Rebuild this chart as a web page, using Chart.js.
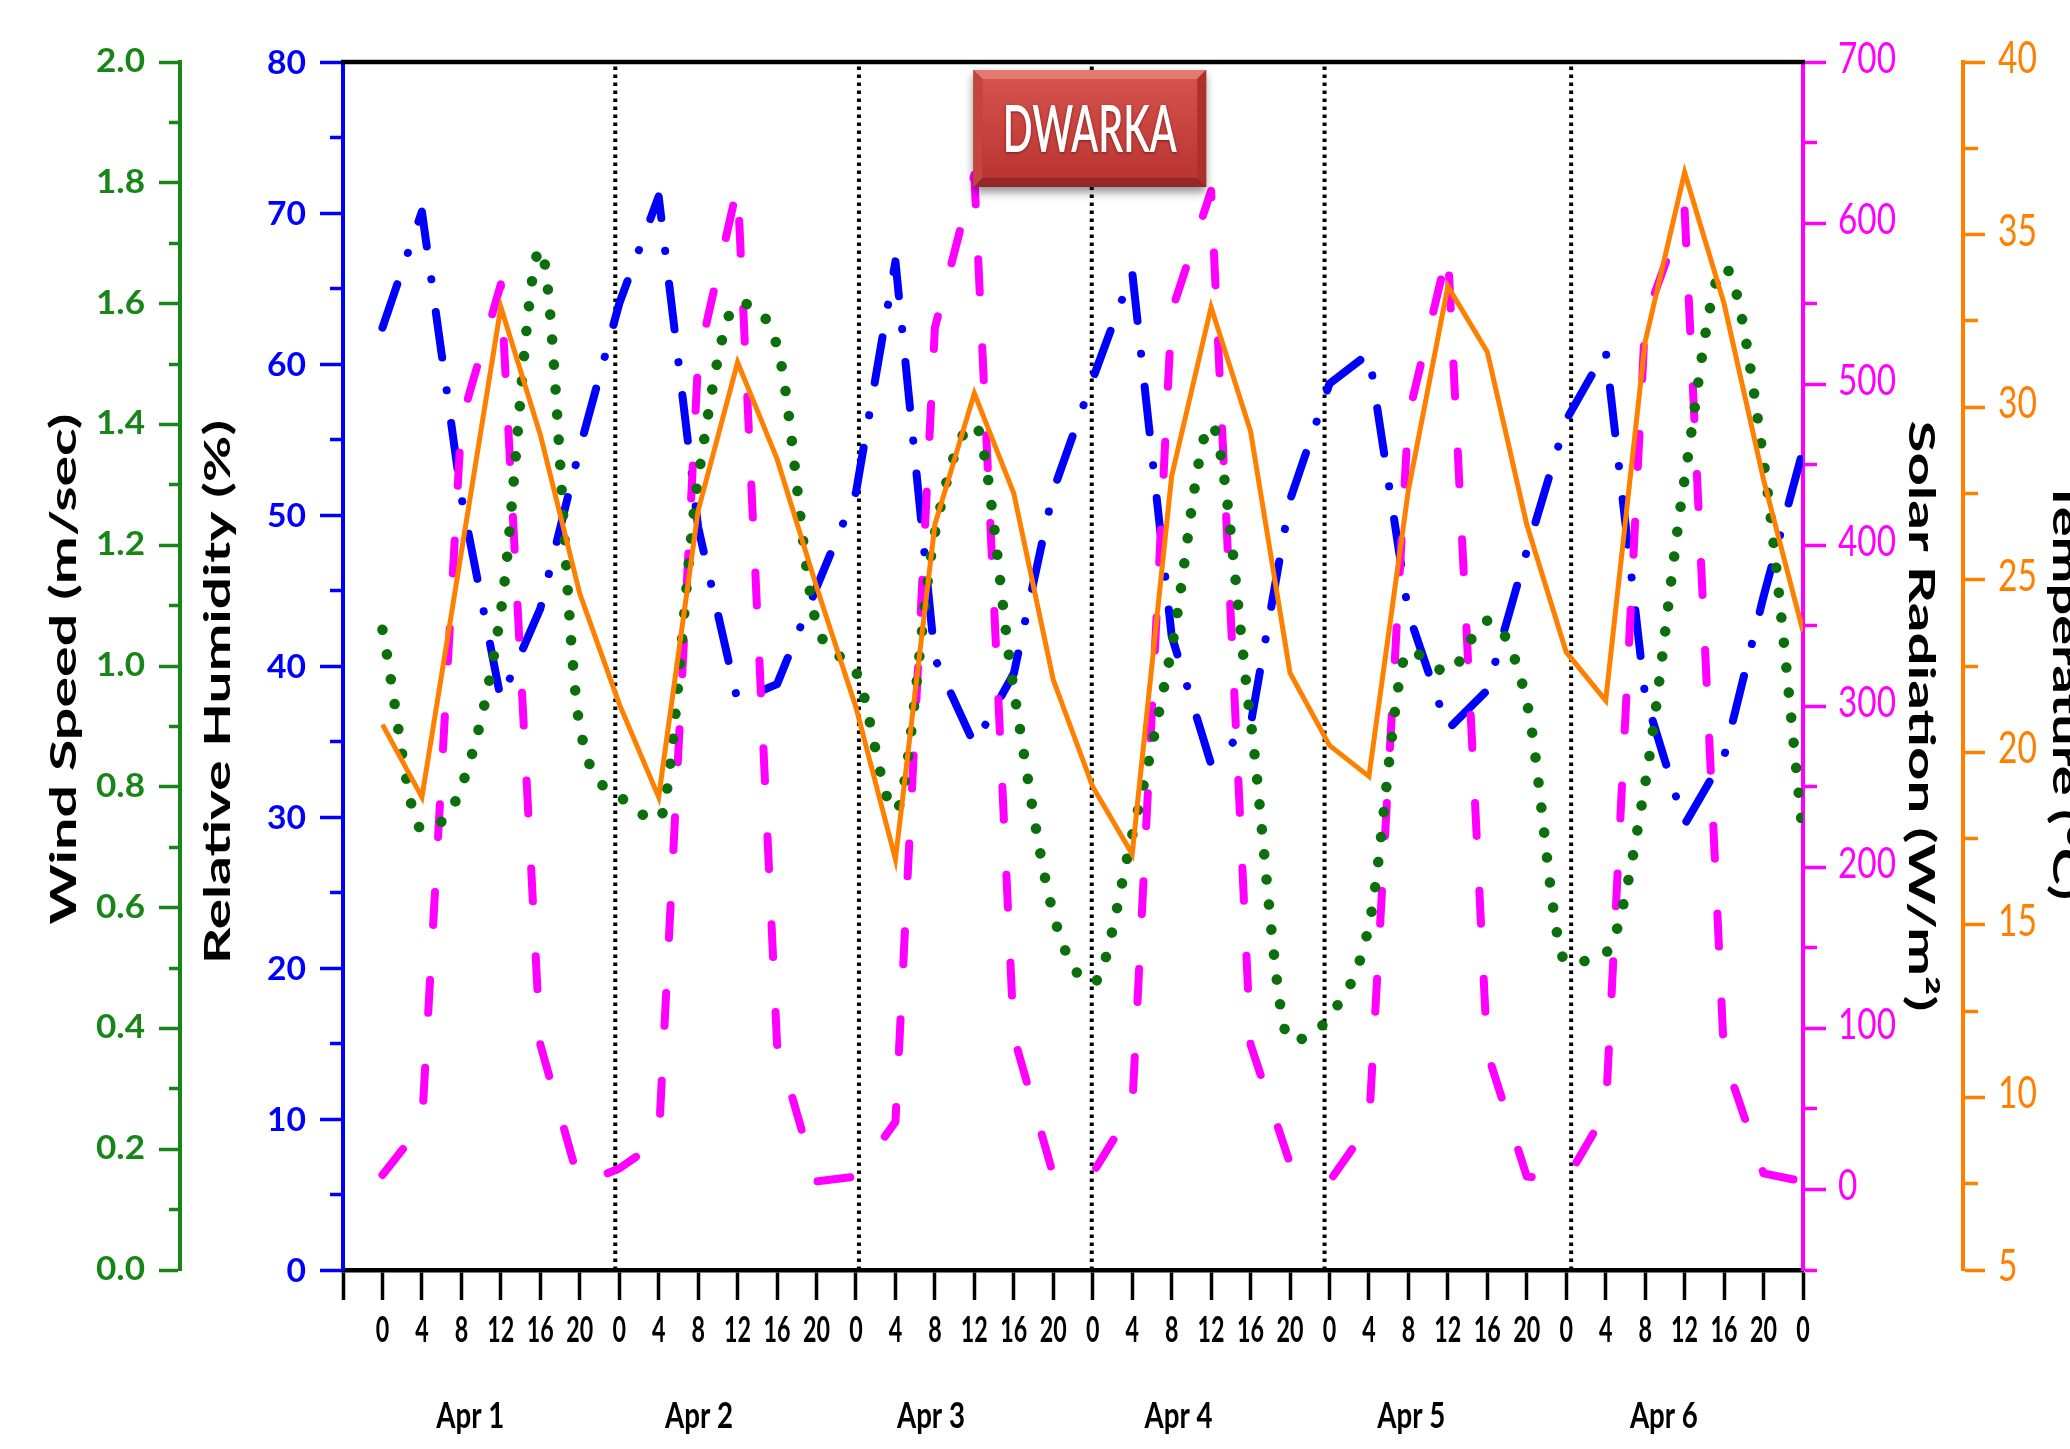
<!DOCTYPE html>
<html>
<head>
<meta charset="utf-8">
<script src="https://cdn.jsdelivr.net/npm/chart.js@4.4.1/dist/chart.umd.min.js"></script>
<style>
html,body{margin:0;padding:0;background:#ffffff;}
#wrap{position:relative;width:2070px;height:1449px;overflow:hidden;background:#ffffff;}
canvas{display:block;}
</style>
</head>
<body>
<div id="wrap"><canvas id="c" width="2070" height="1449"></canvas></div>
<script>
// ---------------- DATA ----------------
const hours = [0,4,8,12,16,20,24,28,32,36,40,44,48,52,56,60,64,68,72,76,80,84,88,92,96,100,104,108,112,116,120,124,128,132,136,140,144];

const windSpeed = [1.06,0.73,0.80,1.09,1.69,0.90,0.785,0.745,1.31,1.60,1.53,1.07,0.99,0.76,1.22,1.40,0.96,0.59,0.475,0.72,1.03,1.40,0.91,0.38,0.42,0.57,1.025,0.99,1.075,0.94,0.51,0.525,0.805,1.31,1.66,1.34,0.72];

const humidity = [62.4,70.1,51.2,37.8,43.8,54.4,64.0,71.1,49.2,37.7,38.8,45.2,51.5,66.8,40.5,34.8,39.5,51.6,59.0,66.1,42.0,33.5,36.1,51.0,58.7,60.7,43.5,35.8,38.4,47.6,56.3,60.9,38.0,29.5,34.0,44.6,54.3];

const solarRadiation = [9,40,477,562,90,3,13,30,515,623,90,5,8,42,535,630,95,9,10,50,545,620,90,16,5,40,480,583,85,8,6,48,540,608,82,10,5];

const temperature = [20.8,18.7,25.8,32.9,29.2,24.6,21.4,18.7,27.0,31.3,28.5,24.8,21.3,16.9,26.6,30.4,27.5,22.1,19.0,17.05,28.0,32.9,29.3,22.3,20.2,19.3,27.6,33.5,31.6,26.6,22.9,21.5,31.9,36.8,33.0,27.9,23.5];

const dayLabels = ['Apr 1','Apr 2','Apr 3','Apr 4','Apr 5','Apr 6'];
const dayLabelHours = [8.9,32.1,55.6,80.7,104.3,129.9];
const dayBoundaryHours = [23.6,48.3,71.9,95.5,120.5];
const hoursPerDay = 24;

const axisTitles = {
  wind: 'Wind Speed (m/sec)',
  humidity: 'Relative Humidity (%)',
  solar: 'Solar Radiation (W/m\u00B2)',
  temp: 'Temperature (\u00B0C)'
};
const stationName = 'DWARKA';

// ---------------- STYLE ----------------
const C_WIND = '#0b700b', C_WIND_AX = '#178517';
const C_RH = '#0000ff', C_SR = '#ff00ff', C_T = '#ff8000';
const FONT = 'Lato, "Open Sans", "DejaVu Sans", sans-serif';

const toXY = arr => arr.map((v, i) => ({x: hours[i], y: v}));

const isMajorWind = v => Math.round(v * 10) % 2 === 0;
const isMajorRH = v => Math.round(v) % 10 === 0;
const isMajorSR = v => v >= 0 && Math.round(v) % 100 === 0;
const isMajorT = v => Math.abs(v / 5 - Math.round(v / 5)) < 1e-6;

function minorDash(isMajor, total, minorLen, side) {
  return (ctx) => {
    const v = ctx.tick ? ctx.tick.value : 0;
    if (isMajor(v)) return [];
    return side === 'left' ? [0, total - minorLen, minorLen, 400] : [minorLen, 400];
  };
}

function vAxis(opts) {
  return {
    type: 'linear',
    position: opts.position,
    weight: opts.weight,
    min: opts.min, max: opts.max,
    ticks: {stepSize: opts.step, display: false, autoSkip: false, maxTicksLimit: 1000},
    grid: {
      display: true, drawOnChartArea: false, drawTicks: true,
      tickLength: opts.tickLen, tickWidth: 3.5, tickColor: opts.color,
      tickBorderDash: minorDash(opts.isMajor, opts.tickLen, opts.minorLen, opts.position)
    },
    border: {display: true, color: opts.color, width: 4},
    afterFit: (s) => { s.width = opts.width; }
  };
}

// ---------------- TEXT HELPERS ----------------
function drawText(ctx, text, x, y, o) {
  ctx.save();
  ctx.font = o.font;
  ctx.fillStyle = o.color;
  ctx.textAlign = o.align || 'center';
  ctx.textBaseline = 'alphabetic';
  ctx.translate(x, y);
  if (o.rotate) ctx.rotate(o.rotate);
  ctx.scale(o.sx || 1, 1);
  if (o.shadow) { ctx.shadowColor = o.shadow; ctx.shadowBlur = 3; ctx.shadowOffsetY = 1; }
  ctx.fillText(text, 0, 0);
  ctx.restore();
}
function fitScale(ctx, font, text, width) {
  ctx.save(); ctx.font = font;
  const w = ctx.measureText(text).width;
  ctx.restore();
  return width / w;
}
function halfHeight(ctx, font, text) {
  ctx.save(); ctx.font = font;
  const m = ctx.measureText(text);
  ctx.restore();
  return (m.actualBoundingBoxAscent - m.actualBoundingBoxDescent) / 2;
}

const labelPlugin = {
  id: 'labelPlugin',
  afterDraw(chart) {
    const ctx = chart.ctx;
    const ca = chart.chartArea;
    const S = chart.scales;

    // top frame line
    ctx.save();
    ctx.strokeStyle = '#000'; ctx.lineWidth = 4.5;
    ctx.beginPath(); ctx.moveTo(ca.left - 2, ca.top); ctx.lineTo(ca.right + 2, ca.top); ctx.stroke();
    ctx.restore();

    // vertical axis tick labels
    const specs = [
      {scale: S.yWind, font: 'bold 33px ' + FONT, color: C_WIND_AX, x: S.yWind.right - 35, align: 'right', ref: '2.0', refW: 49, fmt: v => v.toFixed(1), major: isMajorWind, dy: -2},
      {scale: S.y, font: 'bold 33px ' + FONT, color: C_RH, x: S.y.right - 37, align: 'right', ref: '80', refW: 39, fmt: v => String(Math.round(v)), major: isMajorRH, dy: 0},
      {scale: S.ySolar, font: '42px ' + FONT, color: C_SR, x: S.ySolar.left + 35, align: 'left', ref: '700', refW: 58, fmt: v => String(Math.round(v)), major: isMajorSR, dy: -5},
      {scale: S.yTemp, font: '44px ' + FONT, color: C_T, x: S.yTemp.left + 35, align: 'left', ref: '40', refW: 39, fmt: v => String(Math.round(v)), major: isMajorT, dy: -5}
    ];
    specs.forEach(sp => {
      const sx = fitScale(ctx, sp.font, sp.ref, sp.refW);
      const hh = halfHeight(ctx, sp.font, '0');
      sp.scale.ticks.forEach(t => {
        if (!sp.major(t.value)) return;
        const y = sp.scale.getPixelForValue(t.value);
        drawText(ctx, sp.fmt(t.value), sp.x, y + hh + sp.dy, {font: sp.font, color: sp.color, align: sp.align, sx});
      });
    });

    // x tick labels (hour of day)
    const xs = S.x;
    const xFont = 'bold 37px ' + FONT;
    const xsx = fitScale(ctx, xFont, '12', 27);
    xs.ticks.forEach(t => {
      if (t.value < 0) return;
      const lbl = String(Math.round(t.value) % hoursPerDay);
      drawText(ctx, lbl, xs.getPixelForValue(t.value), xs.top + 72, {font: xFont, color: '#000', align: 'center', sx: xsx});
    });

    // day labels
    const dFont = 'bold 36px ' + FONT;
    const dsx = fitScale(ctx, dFont, 'Apr 1', 68);
    dayLabels.forEach((d, i) => {
      drawText(ctx, d, xs.getPixelForValue(dayLabelHours[i]), xs.top + 158, {font: dFont, color: '#000', align: 'center', sx: dsx});
    });

    // axis titles
    const tFont = 'bold 37px ' + FONT;
    const midY = (ca.top + ca.bottom) / 2;
    const titles = [
      {text: axisTitles.wind, x: S.yWind.left + 76, y: midY + 3, rot: -Math.PI / 2, len: 511},
      {text: axisTitles.humidity, x: S.y.left + 50, y: midY + 26, rot: -Math.PI / 2, len: 544},
      {text: axisTitles.solar, x: S.ySolar.left + 106, y: midY + 50, rot: Math.PI / 2, len: 591},
      {text: axisTitles.temp, x: S.yTemp.left + 90, y: midY + 24, rot: Math.PI / 2, len: 420}
    ];
    titles.forEach(t => {
      const sx = fitScale(ctx, tFont, t.text, t.len);
      drawText(ctx, t.text, t.x, t.y, {font: tFont, color: '#000', align: 'center', sx, rotate: t.rot});
    });

    // station name badge
    const bx0 = xs.getPixelForValue(59.9), bx1 = xs.getPixelForValue(83.5);
    const by0 = ca.top + 8, by1 = ca.top + 125, b = 9;
    ctx.save();
    ctx.shadowColor = 'rgba(0,0,0,0.45)'; ctx.shadowBlur = 9; ctx.shadowOffsetY = 5;
    ctx.fillStyle = '#b83430';
    ctx.fillRect(bx0, by0, bx1 - bx0, by1 - by0);
    ctx.restore();
    ctx.save();
    const poly = (pts, fill) => { ctx.beginPath(); ctx.moveTo(pts[0][0], pts[0][1]); pts.slice(1).forEach(p => ctx.lineTo(p[0], p[1])); ctx.closePath(); ctx.fillStyle = fill; ctx.fill(); };
    poly([[bx0, by0], [bx1, by0], [bx1 - b, by0 + b], [bx0 + b, by0 + b]], '#e27a72');
    poly([[bx0, by1], [bx1, by1], [bx1 - b, by1 - b], [bx0 + b, by1 - b]], '#952826');
    poly([[bx0, by0], [bx0 + b, by0 + b], [bx0 + b, by1 - b], [bx0, by1]], '#c4443f');
    poly([[bx1, by0], [bx1 - b, by0 + b], [bx1 - b, by1 - b], [bx1, by1]], '#ad302d');
    const g = ctx.createLinearGradient(0, by0 + b, 0, by1 - b);
    g.addColorStop(0, '#d4524c'); g.addColorStop(1, '#ba3531');
    ctx.fillStyle = g;
    ctx.fillRect(bx0 + b, by0 + b, bx1 - bx0 - 2 * b, by1 - by0 - 2 * b);
    ctx.restore();
    const nFont = '600 66px ' + FONT;
    const nsx = fitScale(ctx, nFont, stationName, 174);
    drawText(ctx, stationName, (bx0 + bx1) / 2, by0 + 82, {font: nFont, color: '#ffffff', align: 'center', sx: nsx, shadow: 'rgba(90,0,0,0.6)'});
  }
};

// ---------------- CHART ----------------
const datasets = [
  {label: 'Temperature', data: toXY(temperature), yAxisID: 'yTemp', borderColor: C_T, borderWidth: 5, pointRadius: 0, tension: 0, order: 0, borderJoinStyle: 'miter'},
  {label: 'Wind Speed', data: toXY(windSpeed), yAxisID: 'yWind', borderColor: C_WIND, borderWidth: 10.5, borderDash: [0.1, 25], borderCapStyle: 'round', borderJoinStyle: 'round', cubicInterpolationMode: 'monotone', pointRadius: 0, order: 1},
  {label: 'Solar Radiation', data: toXY(solarRadiation), yAxisID: 'ySolar', borderColor: C_SR, borderWidth: 8, borderDash: [33, 55], borderCapStyle: 'round', borderJoinStyle: 'round', pointRadius: 0, tension: 0, order: 2},
  {label: 'Relative Humidity', data: toXY(humidity), yAxisID: 'y', borderColor: C_RH, borderWidth: 8, borderDash: [46, 33, 0.1, 33], borderCapStyle: 'round', borderJoinStyle: 'round', pointRadius: 0, tension: 0, order: 3}
].concat(dayBoundaryHours.map(h => ({
  label: 'day', data: [{x: h, y: 0}, {x: h, y: 80}], yAxisID: 'y',
  borderColor: '#000', borderWidth: 4, borderDash: [3.5, 4.5], pointRadius: 0, order: 4
})));

new Chart(document.getElementById('c'), {
  type: 'line',
  data: {datasets},
  options: {
    responsive: false,
    animation: false,
    devicePixelRatio: 1,
    layout: {padding: {top: 62, left: 0, right: 0, bottom: 0}},
    plugins: {legend: {display: false}, tooltip: {enabled: false}, title: {display: false}},
    scales: {
      x: {
        type: 'linear', position: 'bottom', min: -4, max: 144,
        ticks: {stepSize: 4, display: false, autoSkip: false, maxTicksLimit: 1000},
        grid: {display: true, drawOnChartArea: false, drawTicks: true, tickLength: 30, tickWidth: 3.5, tickColor: '#000'},
        border: {display: true, color: '#000', width: 4.5},
        afterFit: (s) => { s.height = 179; }
      },
      y: vAxis({position: 'left', weight: 0, min: 0, max: 80, step: 5, tickLen: 23, minorLen: 13, color: C_RH, isMajor: isMajorRH, width: 163}),
      yWind: vAxis({position: 'left', weight: 1, min: 0, max: 2, step: 0.1, tickLen: 21, minorLen: 11, color: C_WIND_AX, isMajor: isMajorWind, width: 180}),
      ySolar: vAxis({position: 'right', weight: 0, min: -50, max: 700, step: 50, tickLen: 23, minorLen: 12, color: C_SR, isMajor: isMajorSR, width: 160}),
      yTemp: vAxis({position: 'right', weight: 1, min: 5, max: 40, step: 2.5, tickLen: 22, minorLen: 13, color: C_T, isMajor: isMajorT, width: 107})
    }
  },
  plugins: [labelPlugin]
});
</script>
</body>
</html>
